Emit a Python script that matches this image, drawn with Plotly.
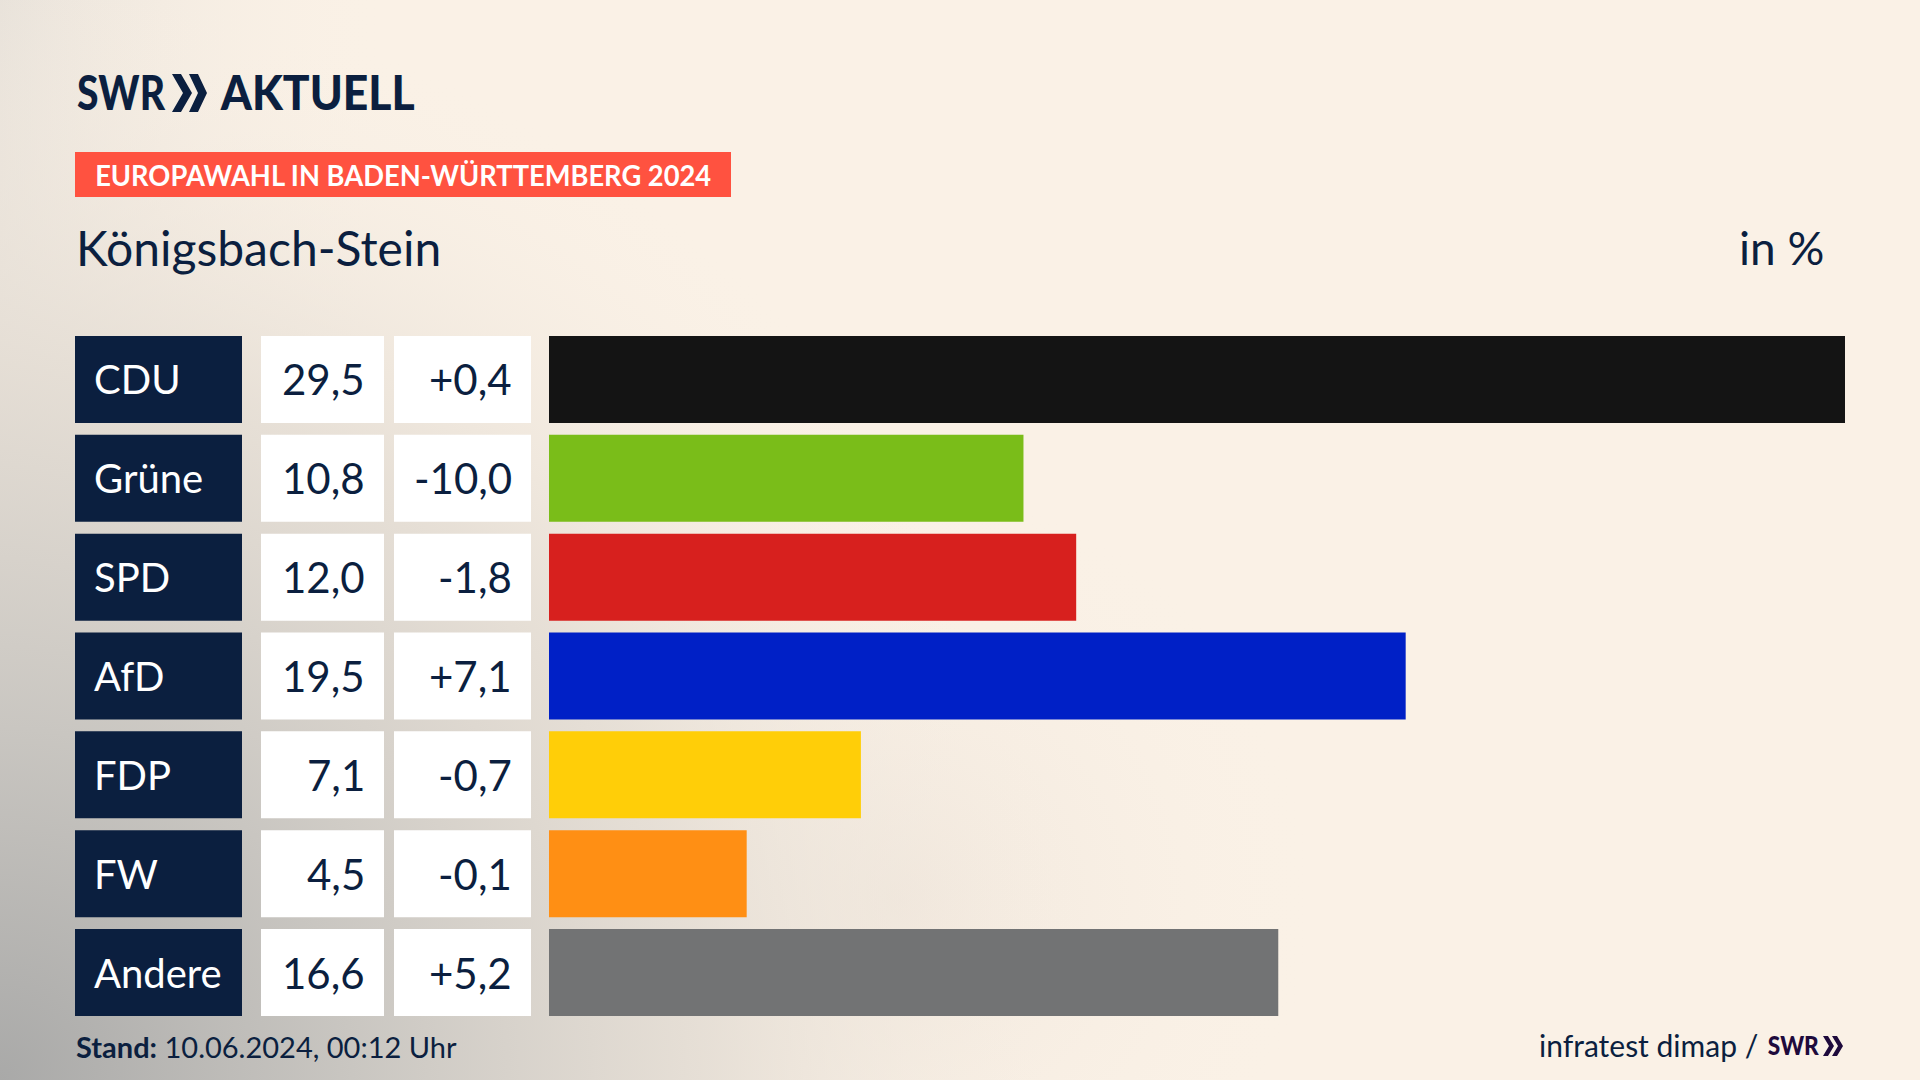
# -*- coding: utf-8 -*-
import base64
import json
import plotly.graph_objects as go

# ===== DATA =====
PARTIES = ["CDU", "Grüne", "SPD", "AfD", "FDP", "FW", "Andere"]
SHARES = [29.5, 10.8, 12.0, 19.5, 7.1, 4.5, 16.6]
CHANGES = [0.4, -10.0, -1.8, 7.1, -0.7, -0.1, 5.2]
COLORS = ["#141414", "#7ABD19", "#D7201E", "#0020C6", "#FFCE08", "#FF8F14", "#727374"]

HEADER = "EUROPAWAHL IN BADEN-WÜRTTEMBERG 2024"
PLACE = "Königsbach-Stein"
UNIT = "in %"
STAND = "<b>Stand:</b> 10.06.2024, 00:12 Uhr"
SOURCE = "infratest dimap /"

# ===== STYLE =====
W, H = 1920, 1080
NAVY = "#0B1F3F"
PURPLE = "#1E0A3C"
FONT = "Lato"
BAR_LEFT, BAR_RIGHT = 549, 1845
# the house font is narrower than anything installed: squeeze these to width
FIT_WIDTHS = {HEADER: 616, "SWR": 88, "AKTUELL": 194}
SMALL_SWR_WIDTH = 51


def px(x):
    return x / W


def py(y):
    return 1 - y / H


def chevron_path(x0, x1, y0, y1, thick):
    """Closed '>' shape, given in window pixels, as a paper-space svg path."""
    ym = (y0 + y1) / 2
    pts = [(x0, y0), (x0 + thick, y0), (x1, ym), (x0 + thick, y1), (x0, y1), (x1 - thick, ym)]
    return "M " + " L ".join(f"{px(a):.5f},{py(b):.5f}" for a, b in pts) + " Z"


def german(v, sign=False):
    return (f"{v:+.1f}" if sign else f"{v:.1f}").replace(".", ",")


# soft background: cream with grey corner bottom left
svg = f"""<svg xmlns="http://www.w3.org/2000/svg" width="{W}" height="{H}">
<defs>
<radialGradient id="a" gradientUnits="userSpaceOnUse" cx="0" cy="1080" r="1100">
<stop offset="0" stop-color="#A9A9A8"/><stop offset="0.32" stop-color="#C9C6C1"/>
<stop offset="0.65" stop-color="#E4DDD4" stop-opacity="0.85"/><stop offset="1" stop-color="#FAF1E6" stop-opacity="0"/>
</radialGradient>
<radialGradient id="b" gradientUnits="userSpaceOnUse" cx="900" cy="900" r="420">
<stop offset="0" stop-color="#E6DCD2" stop-opacity="0.5"/><stop offset="1" stop-color="#FAF1E6" stop-opacity="0"/>
</radialGradient>
<linearGradient id="c" x1="0" x2="1" y1="0" y2="0">
<stop offset="0" stop-color="#E8E2DA"/><stop offset="0.2" stop-color="#FAF1E6" stop-opacity="0"/>
</linearGradient>
</defs>
<rect width="100%" height="100%" fill="#FAF1E6"/>
<rect width="100%" height="100%" fill="url(#c)"/>
<rect width="100%" height="100%" fill="url(#b)"/>
<rect width="100%" height="100%" fill="url(#a)"/>
</svg>"""
bg_src = "data:image/svg+xml;base64," + base64.b64encode(svg.encode()).decode()

fig = go.Figure(
    go.Bar(
        x=SHARES,
        y=PARTIES,
        orientation="h",
        marker=dict(color=COLORS, line_width=0),
        hoverinfo="skip",
    )
)

shapes = []
annotations = []


def add_text(text, x, y, size, color=NAVY, anchor="left", weight=400, yref="paper"):
    annotations.append(
        dict(
            text=text, x=px(x), y=py(y) if yref == "paper" else y,
            xref="paper", yref=yref, xanchor=anchor, yanchor="middle",
            showarrow=False, font=dict(family=FONT, size=size, color=color, weight=weight),
        )
    )


# table part of each row
for i, party in enumerate(PARTIES):
    for x0, x1, col in [(75, 242, NAVY), (261, 384, "white"), (394, 531, "white")]:
        shapes.append(
            dict(type="rect", xref="paper", yref="y", x0=px(x0), x1=px(x1),
                 y0=i - 0.44, y1=i + 0.44, fillcolor=col, line_width=0, layer="below")
        )
    add_text(party, 92, party, 40, color="white", yref="y")
    add_text(german(SHARES[i]), 367, party, 42, anchor="right", yref="y")
    add_text(german(CHANGES[i], sign=True), 514, party, 42, anchor="right", yref="y")

# header band
shapes.append(
    dict(type="rect", xref="paper", yref="paper", x0=px(75), x1=px(731), y0=py(197), y1=py(152),
         fillcolor="#FF5240", line_width=0, layer="below")
)
add_text(HEADER, 402.5, 175, 28, color="white", anchor="center", weight=700)
add_text(PLACE, 74, 247, 48)
add_text(UNIT, 1826, 247, 46, anchor="right")

# logo
add_text("SWR", 121, 92, 48, anchor="center", weight=900)
add_text("AKTUELL", 317, 92, 48, anchor="center", weight=900)
for x0, x1 in [(172, 192), (189, 207)]:
    shapes.append(dict(type="path", xref="paper", yref="paper", path=chevron_path(x0, x1, 74, 112, 9),
                       fillcolor=NAVY, line_width=0))

# footer
add_text(STAND, 74, 1046, 29)
add_text(SOURCE, 1537, 1045, 30)
add_text("SWR", 1794, 1045, 26, color=PURPLE, anchor="center", weight=900)
for x0, x1 in [(1823, 1834), (1832, 1843)]:
    shapes.append(dict(type="path", xref="paper", yref="paper", path=chevron_path(x0, x1, 1036, 1056, 5),
                       fillcolor=PURPLE, line_width=0))

fig.update_layout(
    width=W,
    height=H,
    margin=dict(l=0, r=0, t=0, b=0),
    showlegend=False,
    bargap=0.12,
    paper_bgcolor="#FAF1E6",
    plot_bgcolor="rgba(0,0,0,0)",
    xaxis=dict(domain=[px(BAR_LEFT), px(BAR_RIGHT)], range=[0, 29.5], visible=False),
    yaxis=dict(domain=[py(1022), py(330)], autorange="reversed", visible=False,
               categoryorder="array", categoryarray=PARTIES),
    shapes=shapes,
    annotations=annotations,
    images=[dict(source=bg_src, xref="paper", yref="paper", x=0, y=1, sizex=1, sizey=1,
                 xanchor="left", yanchor="top", sizing="stretch", layer="below")],
)

fit_js = (
    "var fit=" + json.dumps(FIT_WIDTHS) + ";"
    "document.querySelectorAll('.annotation-text').forEach(function(t){"
    "var k=t.textContent;var w=fit[k];"
    f"if(k==='SWR'&&parseFloat(t.style.fontSize)<40){{w={SMALL_SWR_WIDTH};}}"
    "if(w){t.setAttribute('textLength',w);t.setAttribute('lengthAdjust','spacingAndGlyphs');}"
    "});"
)

fig.write_html(
    "out.html",
    config=dict(displayModeBar=False),
    post_script="document.body.style.margin='0';document.body.style.overflow='hidden';" + fit_js,
)
